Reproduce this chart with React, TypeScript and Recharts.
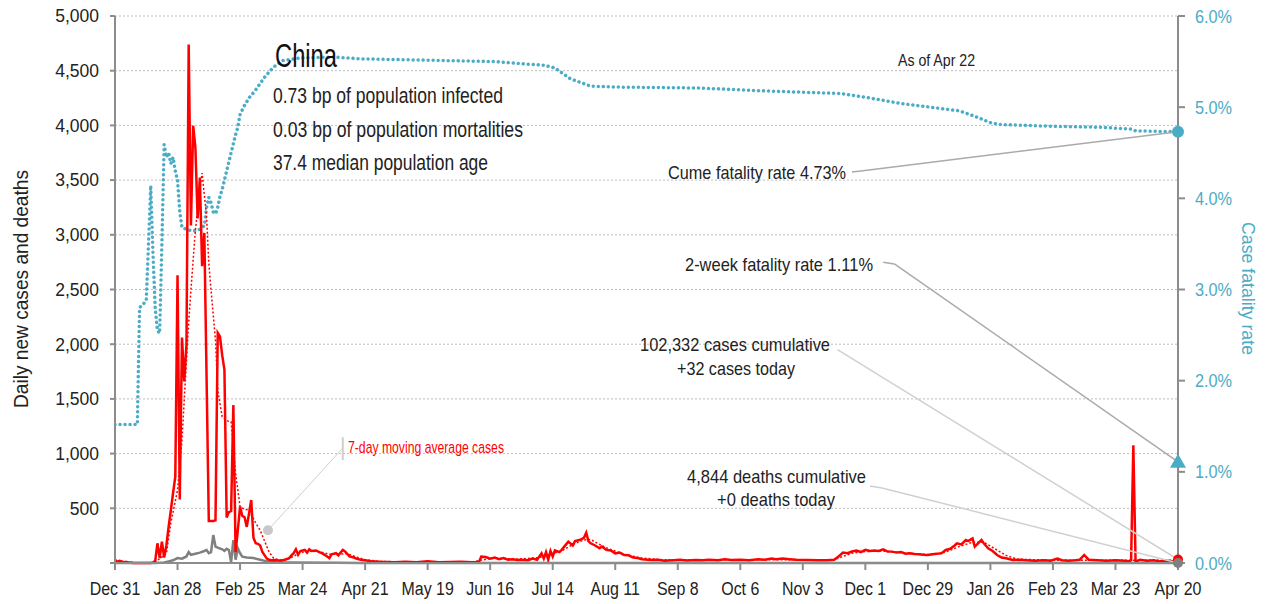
import React from "react";
import {
  LineChart,
  Line,
  XAxis,
  YAxis,
  CartesianGrid,
  ReferenceDot,
  ReferenceLine,
} from "recharts";

const FONT = "'Liberation Sans', Arial, sans-serif";
const RED = "#ff0000";
const TEAL = "#4bacc6";
const GRAY = "#808080";
const AXIS = "#8c8c8c";
const INK = "#222";

// day 0 = Dec 31, one tick every 28 days
const xTickLabels = [
  "Dec 31", "Jan 28", "Feb 25", "Mar 24", "Apr 21", "May 19", "Jun 16", "Jul 14", "Aug 11",
  "Sep 8", "Oct 6", "Nov 3", "Dec 1", "Dec 29", "Jan 26", "Feb 23", "Mar 23", "Apr 20",
];
const xTickDays = xTickLabels.map((_, i) => i * 28);
const leftTicks = [0, 500, 1000, 1500, 2000, 2500, 3000, 3500, 4000, 4500, 5000];
const rightTicks = [0, 1, 2, 3, 4, 5, 6];

// daily new cases, days 0..70
const casesDaily = [
  30, 10, 20, 15, 5, 10, 3, 5, 0, 0, 0, 0, 0, 0, 0, 0, 0, 3, 20, 180,
  45, 195, 50, 160, 330, 480, 640, 790, 2630, 580, 2060, 1660, 2000, 4740, 3085, 3997, 3795, 3150, 3523, 2713,
  3017, 1700, 384, 384, 384, 390, 2103, 2070, 1900, 1765, 415, 465, 475, 1445, 100, 300, 515, 430, 420, 330,
  450, 576, 230, 180, 175, 160, 100, 70, 40, 30, 25,
];

// later new cases [day, value]
const casesLater: [number, number][] = [
  [72, 27], [74, 20], [76, 30], [78, 45], [79, 70], [80, 90], [81, 125], [82, 75], [83, 110], [85, 120],
  [86, 95], [87, 125], [88, 110], [90, 115], [92, 95], [93, 85], [95, 60], [96, 45], [97, 80], [99, 90],
  [100, 70], [102, 120], [103, 105], [105, 60], [107, 50], [108, 40], [110, 30], [112, 25], [115, 15], [118, 12],
  [121, 10], [125, 8], [130, 12], [135, 8], [140, 15], [145, 8], [150, 10], [155, 12], [160, 8], [163, 10],
  [164, 58], [166, 55], [168, 40], [170, 50], [172, 35], [174, 45], [176, 30], [178, 35], [180, 27], [182, 30],
  [185, 25], [187, 40], [189, 30], [191, 88], [192, 40], [193, 100], [194, 30], [195, 110], [196, 60], [197, 115],
  [199, 100], [200, 120], [202, 170], [203, 195], [205, 160], [206, 200], [208, 210], [210, 230], [211, 277], [212, 200],
  [213, 180], [215, 160], [217, 135], [218, 150], [220, 120], [222, 115], [224, 88], [226, 95], [228, 73], [230, 70],
  [232, 50], [234, 45], [236, 35], [240, 27], [243, 30], [246, 20], [250, 25], [253, 30], [256, 22], [260, 28],
  [263, 25], [266, 30], [270, 25], [273, 35], [276, 28], [280, 30], [284, 25], [288, 35], [291, 30], [294, 40],
  [296, 35], [299, 40], [302, 35], [305, 30], [310, 28], [315, 25], [319, 25], [322, 30], [324, 60], [326, 95],
  [328, 90], [330, 105], [332, 113], [334, 100], [336, 120], [338, 110], [340, 115], [342, 110], [344, 125], [346, 105],
  [348, 104], [350, 95], [352, 100], [354, 85], [356, 90], [358, 82], [360, 80], [362, 75], [364, 73], [366, 80],
  [368, 85], [370, 88], [372, 119], [374, 130], [376, 160], [377, 180], [379, 170], [381, 210], [382, 200], [384, 225],
  [385, 150], [386, 170], [388, 210], [389, 180], [391, 135], [393, 110], [395, 73], [397, 50], [399, 43], [402, 27],
  [405, 30], [408, 25], [412, 20], [416, 25], [419, 20], [422, 40], [424, 25], [427, 20], [430, 25], [432, 30],
  [434, 73], [436, 30], [440, 25], [444, 20], [448, 25], [452, 20], [454, 15], [455, 25], [456, 1075], [457, 10],
  [459, 30], [462, 20], [465, 25], [468, 15], [471, 20], [474, 15], [476, 32],
];

// 7-day moving average of cases [day, value]
const casesAvg: [number, number][] = [
  [0, 20], [5, 10], [10, 0], [18, 5], [20, 40], [22, 70], [23, 85], [25, 365], [28, 667], [30, 1124],
  [31, 1490], [33, 2200], [34, 2495], [36, 3044], [38, 3409], [39, 3564], [41, 3165], [42, 2742], [43, 2495], [45, 2038],
  [46, 1581], [48, 1337], [51, 1291], [52, 1290], [54, 820], [56, 515], [58, 490], [60, 485], [63, 365], [65, 300],
  [67, 200], [69, 100], [71, 45], [73, 30], [76, 25], [79, 50], [82, 85], [85, 105], [88, 110], [92, 100],
  [96, 80], [100, 80], [104, 85], [108, 55], [112, 30], [118, 15], [130, 10], [160, 10], [165, 30], [170, 45],
  [180, 35], [190, 50], [195, 80], [200, 110], [205, 170], [210, 210], [213, 215], [216, 180], [220, 140], [225, 100],
  [230, 70], [236, 45], [245, 30], [300, 30], [322, 30], [326, 60], [330, 90], [336, 105], [344, 110], [352, 95],
  [360, 80], [366, 78], [372, 100], [378, 150], [384, 190], [389, 190], [394, 130], [399, 70], [404, 35], [420, 25],
  [456, 25], [476, 25],
];

// daily new deaths [day, value]
const deaths: [number, number][] = [
  [0, 0], [18, 0], [22, 5], [24, 15], [26, 25], [28, 45], [30, 40], [32, 60], [33, 100], [34, 75],
  [36, 85], [38, 95], [40, 110], [41, 119], [42, 90], [43, 100], [44, 255], [45, 150], [46, 140], [48, 125],
  [49, 110], [50, 130], [51, 119], [52, 10], [53, 210], [54, 30], [55, 135], [56, 90], [57, 58], [59, 50],
  [62, 45], [65, 30], [68, 15], [72, 8], [80, 5], [100, 3], [110, 1], [476, 0],
];

// cumulative case fatality rate, % [day, value]
const fatalityRate: [number, number][] = [
  [0, 1.52], [10, 1.52], [11, 2.8], [13, 2.85], [14, 2.88], [15, 3.5], [16, 4.14], [17, 3.4], [18, 2.8], [19, 2.55],
  [20, 2.52], [21, 3.5], [22, 4.59], [23, 4.45], [24, 4.5], [25, 4.38], [26, 4.45], [27, 4.3], [28, 4.2], [29, 3.85],
  [30, 3.68], [32, 3.66], [35, 3.64], [38, 3.66], [40, 3.7], [41, 3.9], [42, 4.01], [43, 3.95], [44, 3.85], [45, 3.83],
  [46, 3.9], [47, 4.02], [48, 4.1], [50, 4.3], [52, 4.5], [54, 4.7], [55, 4.78], [56, 4.92], [58, 5.02], [60, 5.1],
  [63, 5.19], [67, 5.33], [71, 5.44], [75, 5.51], [83, 5.54], [98, 5.55], [110, 5.53], [130, 5.52], [150, 5.51], [170, 5.5],
  [186, 5.47], [192, 5.46], [197, 5.43], [204, 5.31], [213, 5.23], [226, 5.22], [262, 5.21], [289, 5.18], [325, 5.15], [338, 5.1],
  [352, 5.04], [365, 5.0], [378, 4.96], [385, 4.9], [392, 4.83], [396, 4.81], [420, 4.79], [441, 4.78], [455, 4.76], [457, 4.74],
  [476, 4.73],
];

const twoWeekRate = 1.11;
const cumeRate = 4.73;
const casesToday = 32;
const deathsToday = 0;

const toRows = (pairs: [number, number][]) => pairs.map(([day, v]) => ({ day, v }));
const casesRows = [...casesDaily.map((v, day) => ({ day, v })), ...toRows(casesLater)];
const avgRows = toRows(casesAvg);
const deathRows = toRows(deaths);
const rateRows = toRows(fatalityRate);
const lastDay = 476;

const Triangle = (props: any) => {
  const { cx, cy } = props;
  return <path d={`M${cx},${cy - 8} L${cx + 8},${cy + 6} L${cx - 8},${cy + 6} Z`} fill={TEAL} />;
};

const XTick = (props: any) => {
  const { x, y, payload } = props;
  return (
    <text transform={`translate(${x},${y + 25}) scale(0.84,1)`} textAnchor="middle" fontSize={19} fill={INK}>
      {xTickLabels[Math.round(payload.value / 28)]}
    </text>
  );
};

const LeftTick = (props: any) => {
  const { x, y, payload } = props;
  if (payload.value === 0) return null;
  return (
    <text x={x} y={y + 6.3} textAnchor="end" fontSize={17.5} fill={INK}>
      {payload.value.toLocaleString("en-US")}
    </text>
  );
};

const RightTick = (props: any) => {
  const { x, y, payload } = props;
  return (
    <text transform={`translate(${x},${y + 6.6}) scale(0.88,1)`} textAnchor="start" fontSize={18.5} fill={TEAL}>
      {`${payload.value.toFixed(1)}%`}
    </text>
  );
};

// narrow text: width fixed by textLength
const Note = ({ x, y, w, size = 19, fill = INK, anchor = "start", children }: any) => (
  <text x={x} y={y} fontSize={size} fill={fill} textAnchor={anchor} textLength={w} lengthAdjust="spacingAndGlyphs">
    {children}
  </text>
);

export default function App() {
  return (
    <div style={{ position: "absolute", left: 0, top: 0, width: 1266, height: 604, fontFamily: FONT, background: "#fff" }}>
      <LineChart width={1266} height={604} margin={{ top: 16, right: 0, bottom: 0, left: 0 }}>
        <CartesianGrid yAxisId="left" vertical={false} stroke="#bdbdbd" strokeDasharray="2 2" />
        <XAxis
          type="number"
          dataKey="day"
          domain={[0, lastDay]}
          allowDataOverflow
          ticks={xTickDays}
          height={41}
          tickSize={7}
          tickMargin={0}
          tick={<XTick />}
          axisLine={{ stroke: AXIS, strokeWidth: 2 }}
          tickLine={{ stroke: AXIS, strokeWidth: 2 }}
        />
        <YAxis
          yAxisId="left"
          domain={[0, 5000]}
          ticks={leftTicks}
          width={115}
          tickSize={5}
          tickMargin={11}
          tick={<LeftTick />}
          axisLine={{ stroke: AXIS, strokeWidth: 2 }}
          tickLine={{ stroke: AXIS, strokeWidth: 2 }}
        />
        <YAxis
          yAxisId="right"
          orientation="right"
          domain={[0, 6]}
          ticks={rightTicks}
          width={88}
          tickSize={7}
          tickMargin={10}
          tick={<RightTick />}
          axisLine={{ stroke: AXIS, strokeWidth: 2 }}
          tickLine={{ stroke: AXIS, strokeWidth: 2 }}
        />

        <Line yAxisId="right" data={rateRows} dataKey="v" stroke={TEAL} strokeWidth={3.5}
          strokeDasharray="0.01 5" strokeLinecap="round" dot={false} isAnimationActive={false} />
        <Line yAxisId="left" data={deathRows} dataKey="v" stroke={GRAY} strokeWidth={2.5}
          dot={false} isAnimationActive={false} />
        <Line yAxisId="left" data={avgRows} dataKey="v" stroke={RED} strokeWidth={1.5}
          strokeDasharray="2 2" dot={false} isAnimationActive={false} />
        <Line yAxisId="left" data={casesRows} dataKey="v" stroke={RED} strokeWidth={2.5}
          dot={false} isAnimationActive={false} />

        {/* leader lines */}
        <ReferenceLine yAxisId="right" ifOverflow="visible" stroke="#aaa" strokeWidth={1.5}
          segment={[{ x: 330, y: 4.29 }, { x: 334, y: 4.3 }]} />
        <ReferenceLine yAxisId="right" ifOverflow="visible" stroke="#aaa" strokeWidth={1.5}
          segment={[{ x: 334, y: 4.3 }, { x: lastDay, y: cumeRate }]} />
        <ReferenceLine yAxisId="right" ifOverflow="visible" stroke="#aaa" strokeWidth={1.5}
          segment={[{ x: 344, y: 3.3 }, { x: 349, y: 3.28 }]} />
        <ReferenceLine yAxisId="right" ifOverflow="visible" stroke="#aaa" strokeWidth={1.5}
          segment={[{ x: 349, y: 3.28 }, { x: lastDay, y: twoWeekRate }]} />
        <ReferenceLine yAxisId="left" ifOverflow="visible" stroke="#d0d0d0" strokeWidth={1.5}
          segment={[{ x: 323.5, y: 1950 }, { x: lastDay, y: casesToday }]} />
        <ReferenceLine yAxisId="left" ifOverflow="visible" stroke="#d0d0d0" strokeWidth={1.5}
          segment={[{ x: 338, y: 704 }, { x: 343.5, y: 686 }]} />
        <ReferenceLine yAxisId="left" ifOverflow="visible" stroke="#d0d0d0" strokeWidth={1.5}
          segment={[{ x: 343.5, y: 686 }, { x: lastDay, y: deathsToday }]} />
        <ReferenceLine yAxisId="left" ifOverflow="visible" stroke="#cfcfcf" strokeWidth={1}
          segment={[{ x: 68.5, y: 300 }, { x: 102, y: 1051 }]} />
        <ReferenceLine yAxisId="left" ifOverflow="visible" stroke="#cfcfcf" strokeWidth={2}
          segment={[{ x: 102, y: 1150 }, { x: 102, y: 940 }]} />

        <ReferenceDot yAxisId="left" x={68.5} y={300} r={5} fill="#c8c8c8" stroke="none" ifOverflow="visible" />
        <ReferenceDot yAxisId="right" x={lastDay} y={cumeRate} r={6} fill={TEAL} stroke="none" ifOverflow="visible" />
        <ReferenceDot yAxisId="right" x={lastDay} y={twoWeekRate} r={8} shape={Triangle} ifOverflow="visible" />
        <ReferenceDot yAxisId="left" x={lastDay} y={casesToday} r={5} fill={RED} stroke="none" ifOverflow="visible" />
        <ReferenceDot yAxisId="left" x={lastDay} y={deathsToday} r={5} fill={GRAY} stroke="none" ifOverflow="visible" />
      </LineChart>

      <svg width={1266} height={604} style={{ position: "absolute", left: 0, top: 0, pointerEvents: "none" }}>
        <Note x={275} y={66.5} w={62} size={33} fill="#111">China</Note>
        <Note x={273} y={102.5} w={230} size={22}>0.73 bp of population infected</Note>
        <Note x={273} y={136.5} w={250} size={22}>0.03 bp of population mortalities</Note>
        <Note x={273} y={170} w={215} size={22}>37.4 median population age</Note>
        <Note x={898} y={66} w={77} size={16}>As of Apr 22</Note>

        <Note x={668} y={179} w={178}>Cume fatality rate 4.73%</Note>
        <Note x={685} y={271} w={188}>2-week fatality rate 1.11%</Note>
        <Note x={640} y={351} w={190}>102,332 cases cumulative</Note>
        <Note x={677} y={375} w={118}>+32 cases today</Note>
        <Note x={687} y={483} w={179}>4,844 deaths cumulative</Note>
        <Note x={717} y={506} w={118}>+0 deaths today</Note>

        <Note x={348} y={453} w={156} size={17} fill={RED}>7-day moving average cases</Note>

        <g transform="translate(28,408) rotate(-90)">
          <Note x={0} y={0} w={238} size={19.5}>Daily new cases and deaths</Note>
        </g>
        <g transform="translate(1242,222) rotate(90)">
          <Note x={0} y={0} w={133} size={18.5} fill={TEAL}>Case fatality rate</Note>
        </g>
      </svg>
    </div>
  );
}
